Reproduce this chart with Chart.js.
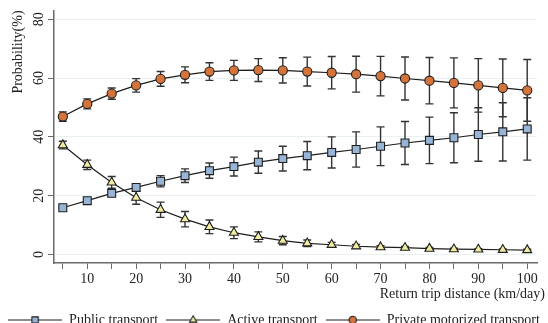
<!DOCTYPE html>
<html>
<head>
<meta charset="utf-8">
<script src="https://cdn.jsdelivr.net/npm/chart.js@4.4.1/dist/chart.umd.min.js"></script>
<style>
  html, body { margin: 0; padding: 0; overflow: hidden; background: #ffffff; }
  #wrap { width: 548px; height: 337px; position: relative; }
</style>
</head>
<body>
<div id="wrap"><canvas id="c"></canvas></div>
<script>
// ---- data ----
const distances = [5, 10, 15, 20, 25, 30, 35, 40, 45, 50, 55, 60, 65, 70, 75, 80, 85, 90, 95, 100];
const xTickValues = [5, 10, 15, 20, 25, 30, 35, 40, 45, 50, 55, 60, 65, 70, 75, 80, 85, 90, 95, 100];
const yTickValues = [0, 20, 40, 60, 80];

const publicValues = [15.9, 18.3, 20.8, 22.8, 24.9, 26.8, 28.5, 29.9, 31.4, 32.6, 33.6, 34.7, 35.7, 36.8, 37.9, 38.8, 39.7, 40.8, 41.7, 42.7];
const publicErr    = [0.5, 0.6, 0.9, 1.3, 1.9, 2.3, 2.6, 3.2, 3.8, 4.2, 4.8, 5.3, 6.0, 6.6, 7.3, 7.9, 8.5, 9.1, 9.9, 10.6];

const activeValues = [37.2, 30.5, 24.5, 19.3, 15.2, 12.0, 9.4, 7.4, 6.0, 4.7, 3.8, 3.3, 2.8, 2.5, 2.3, 2.0, 1.8, 1.7, 1.6, 1.5];
const activeErr    = [1.3, 1.6, 2.0, 2.2, 2.6, 2.6, 2.3, 2.0, 1.7, 1.4, 1.1, 0.8, 0.6, 0.5, 0.4, 0.4, 0.3, 0.3, 0.3, 0.3];

const privateValues = [46.9, 51.2, 54.7, 57.5, 59.7, 61.1, 62.2, 62.6, 62.7, 62.6, 62.2, 61.8, 61.3, 60.65, 59.85, 59.1, 58.35, 57.5, 56.65, 55.8];
const privateErr    = [1.6, 1.7, 1.9, 2.3, 2.5, 2.7, 3.0, 3.4, 3.9, 4.3, 4.9, 5.5, 6.1, 6.7, 7.3, 7.9, 8.5, 9.1, 9.8, 10.5];

const seriesLabels = ['Public transport', 'Active transport', 'Private motorized transport'];
const xTitle = 'Return trip distance (km/day)';
const yTitle = 'Probability(%)';

// ---- styles ----
const FONT = '"Liberation Serif", "Times New Roman", serif';
const TEXT = '#222222';
const LINE = '#1e1e1e';
const AXIS = '#6a6a6a';
const styles = [
  { pointStyle: 'rect', fill: '#98b5d8', radius: 5.6 },
  { pointStyle: 'triangle', fill: '#f2eca2', radius: 5.2 },
  { pointStyle: 'circle', fill: '#d5743a', radius: 4.6 }
];

function toPoints(vals) { return distances.map((d, i) => ({ x: d, y: vals[i] })); }

function drawMarker(g, style, fill, r, cx, cy) {
  g.fillStyle = fill; g.strokeStyle = LINE; g.lineWidth = 1.1;
  g.beginPath();
  if (style === 'rect') {
    const s = r * Math.SQRT1_2;
    g.rect(cx - s, cy - s, 2 * s, 2 * s);
  } else if (style === 'triangle') {
    for (let k = 0; k < 3; k++) {
      const a = k * 2 * Math.PI / 3;
      const px = cx + Math.sin(a) * r, py = cy - Math.cos(a) * r;
      if (k === 0) g.moveTo(px, py); else g.lineTo(px, py);
    }
    g.closePath();
  } else {
    g.arc(cx, cy, r, 0, Math.PI * 2);
  }
  g.fill(); g.stroke();
}

function makeIcon(st) {
  const c = document.createElement('canvas');
  c.width = 54; c.height = 14;
  const g = c.getContext('2d');
  g.strokeStyle = LINE; g.lineWidth = 1.2;
  g.beginPath(); g.moveTo(0, 7); g.lineTo(54, 7); g.stroke();
  drawMarker(g, st.pointStyle, st.fill, st.radius * 0.8, 27, 7);
  return c;
}
const legendIcons = styles.map(makeIcon);

const errorSets = [publicErr, activeErr, privateErr];

const errorBarPlugin = {
  id: 'errorBars',
  beforeDatasetsDraw(chart) {
    const { ctx, scales } = chart;
    const xs = scales.x, ys = scales.y;
    ctx.save();
    ctx.strokeStyle = '#333333';
    ctx.lineWidth = 1.4;
    chart.data.datasets.forEach((ds, i) => {
      const errs = errorSets[i];
      ds.data.forEach((p, j) => {
        const e = errs[j];
        if (!e) return;
        const px = xs.getPixelForValue(p.x);
        const top = ys.getPixelForValue(p.y + e);
        const bot = ys.getPixelForValue(p.y - e);
        ctx.beginPath();
        ctx.moveTo(px, top); ctx.lineTo(px, bot);
        ctx.moveTo(px - 4, top); ctx.lineTo(px + 4, top);
        ctx.moveTo(px - 4, bot); ctx.lineTo(px + 4, bot);
        ctx.stroke();
      });
    });
    ctx.restore();
  }
};

const xTitlePlugin = {
  id: 'xTitle',
  afterDraw(chart) {
    const ctx = chart.ctx;
    const xs = chart.scales.x;
    ctx.save();
    ctx.font = '14px ' + FONT;
    ctx.fillStyle = TEXT;
    ctx.textAlign = 'right';
    ctx.textBaseline = 'middle';
    ctx.fillText(xTitle, chart.width - 3, xs.top + 31);
    ctx.restore();
  }
};

const datasets = [publicValues, activeValues, privateValues].map((vals, i) => ({
  label: seriesLabels[i],
  data: toPoints(vals),
  borderColor: LINE,
  borderWidth: 1.2,
  pointStyle: styles[i].pointStyle,
  pointRadius: styles[i].radius,
  pointBackgroundColor: styles[i].fill,
  pointBorderColor: LINE,
  pointBorderWidth: 1.1,
  tension: 0,
  fill: false
}));

new Chart(document.getElementById('c'), {
  type: 'line',
  data: { datasets },
  plugins: [errorBarPlugin, xTitlePlugin],
  options: {
    responsive: true,
    maintainAspectRatio: false,
    animation: false,
    devicePixelRatio: 1,
    layout: { padding: { top: 10, right: 0, bottom: 0, left: 0 } },
    plugins: {
      tooltip: { enabled: false },
      legend: {
        position: 'bottom',
        labels: {
          usePointStyle: true,
          pointStyleWidth: 54,
          boxHeight: 14,
          padding: 8,
          color: TEXT,
          font: { family: FONT, size: 14 },
          generateLabels: (chart) => chart.data.datasets.map((ds, i) => ({
            text: ds.label,
            pointStyle: legendIcons[i],
            datasetIndex: i,
            fontColor: TEXT,
            hidden: false,
            lineWidth: 0,
            strokeStyle: 'transparent',
            fillStyle: 'transparent'
          }))
        }
      }
    },
    scales: {
      x: {
        type: 'linear',
        min: 3.2,
        max: 102,
        afterBuildTicks: (s) => { s.ticks = xTickValues.map(v => ({ value: v })); },
        afterFit: (s) => { s.height = 42; },
        grid: { drawOnChartArea: false, drawTicks: true, tickLength: 6, tickColor: AXIS, tickWidth: 1 },
        border: { display: true, color: AXIS, width: 1.5 },
        ticks: {
          autoSkip: false,
          maxRotation: 0,
          minRotation: 0,
          padding: 2,
          color: TEXT,
          font: { family: FONT, size: 14 },
          callback: (v) => (v % 10 === 0 ? String(v) : '')
        }
      },
      y: {
        type: 'linear',
        min: -2.9,
        max: 83,
        afterBuildTicks: (s) => { s.ticks = yTickValues.map(v => ({ value: v })); },
        afterFit: (s) => { s.width = 54; },
        grid: { color: '#e9f0f0', lineWidth: 1, drawTicks: true, tickLength: 6, tickColor: AXIS, tickWidth: 1 },
        border: { display: true, color: AXIS, width: 1.5 },
        ticks: {
          minRotation: 90,
          maxRotation: 90,
          crossAlign: 'center',
          padding: 2,
          color: TEXT,
          font: { family: FONT, size: 14 }
        },
        title: {
          display: true,
          text: yTitle,
          align: 'end',
          color: TEXT,
          font: { family: FONT, size: 14 },
          padding: { top: 10, bottom: 0 }
        }
      },
      yR: {
        type: 'linear',
        position: 'right',
        display: true,
        afterFit: (s) => { s.width = 11; },
        grid: { display: false, drawTicks: false },
        border: { display: false },
        ticks: { display: false }
      }
    }
  }
});
</script>
</body>
</html>
